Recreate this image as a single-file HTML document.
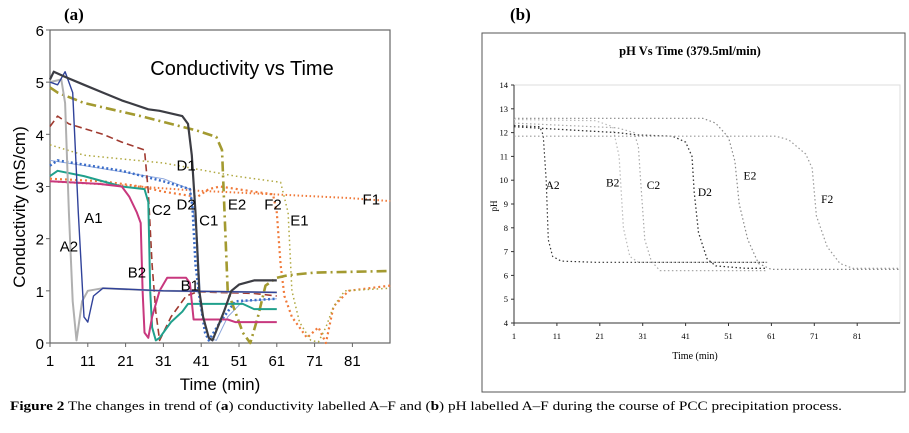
<!DOCTYPE html>
<html><head><meta charset="utf-8"><style>
body{margin:0;background:#fff;width:909px;height:433px;overflow:hidden}
svg{display:block}
</style></head><body>
<svg id="fig" width="909" height="433" xmlns="http://www.w3.org/2000/svg">
<text x="64" y="20" font-family="Liberation Serif, serif" font-weight="bold" font-size="17">(a)</text>
<text x="510" y="20" font-family="Liberation Serif, serif" font-weight="bold" font-size="17">(b)</text>
<rect x="482" y="33" width="423" height="359" fill="#fff" stroke="#555" stroke-width="1"/>
<text x="10" y="410" font-family="Liberation Serif, serif" font-size="12.8" textLength="832" lengthAdjust="spacingAndGlyphs"><tspan font-weight="bold">Figure 2</tspan>  The changes in trend of (<tspan font-weight="bold">a</tspan>) conductivity labelled A–F and (<tspan font-weight="bold">b</tspan>) pH labelled A–F during the course of PCC precipitation process.</text>
<g id="ga"></g><g id="gb"></g>
</svg>
<script>
// ---- Chart (a) data ----
const aXTicks=[1,11,21,31,41,51,61,71,81];
const aYTicks=[0,1,2,3,4,5,6];
const sC1=[[1,5.05],[2,5.2],[5,5.1],[10,4.95],[15,4.8],[20,4.65],[27,4.48],[30,4.45],[36,4.35],[37.5,4.2],[38.5,3.6],[39.5,2.5],[40.5,1.0],[41.5,0.5],[43,0.1],[44,0.05],[47,0.6],[49,1.0],[51,1.12],[55,1.2],[61,1.2]];
const sA2=[[1,5.0],[4,5.05],[5,4.6],[6,2.5],[7,0.8],[8,0.05],[9.5,0.8],[11,1.0],[15,1.05],[30,1.0],[61,0.97]];
const sA1=[[1,5.0],[3,4.95],[5,5.2],[7,4.8],[8.5,2.5],[10,0.5],[11,0.4],[12.5,0.9],[15,1.05],[22,1.03],[31,1.0],[61,0.97]];
const sE=[[1,4.9],[3,4.8],[10,4.6],[25,4.35],[40,4.07],[45,3.95],[46.5,3.7],[47,2.8],[48,1.0],[50,0.6],[52,0.2],[54,0.0],[56,0.5],[58,1.1],[61,1.25],[64,1.3],[71,1.35],[91,1.38]];
const sC2=[[1,4.15],[3,4.35],[6,4.2],[15,4.0],[20,3.85],[26,3.7],[27,2.9],[28,1.5],[29,0.6],[30,0.05],[31,0.2],[33,0.5],[37,0.9],[40,0.98],[55,0.95],[61,0.9]];
const sD1=[[1,3.8],[10,3.6],[31,3.45],[50,3.2],[62,3.08],[64,2.5],[65,1.0],[67,0.4],[70,0.05],[72,0.02],[74,0.3],[76,0.7],[79,1.0],[91,1.05]];
const sD2=[[1,3.4],[3,3.5],[20,3.3],[31,3.1],[38,2.95],[38.7,2.6],[39.5,1.5],[40.5,0.9],[42,0.2],[43,0.05],[46,0.4],[50,0.8],[61,0.85]];
const sD2b=[[1,3.5],[10,3.4],[31,3.15],[38,2.95],[40,2.0],[41,0.6],[43,0.1],[45,0.05],[48,0.5],[52,0.8],[61,0.85]];
const sB1=[[1,3.2],[3,3.3],[10,3.2],[20,3.0],[26,2.95],[27,2.7],[27.5,1.0],[28,0.3],[29,0.05],[30,0.1],[33,0.4],[36,0.6],[37.5,0.75],[52,0.75],[55,0.65],[61,0.65]];
const sB2=[[1,3.1],[14,3.05],[20,3.0],[22,2.8],[24,2.5],[25,2.3],[25.5,1.0],[26,0.2],[27,0.1],[28,0.5],[30,1.0],[32,1.25],[37,1.25],[38,1.15],[39,0.45],[48,0.45],[50,0.4],[61,0.4]];
const sF2=[[1,3.15],[15,3.1],[25,3.0],[31,2.9],[40,2.8],[43,2.95],[46,3.0],[55,2.9],[60,2.85],[61,2.5],[62,1.5],[63,0.9],[65,0.5],[69,0.1],[72,0.3],[74,0.0],[76,0.7],[80,1.0],[91,1.1]];
const sF1=[[1,3.1],[20,3.02],[40,2.92],[60,2.85],[80,2.78],[91,2.72]];
const aLabels=["A1","A2","B2","B1","C2","D2","C1","D1","E2","F2","E1","F1"];
const aLabT=[12.5,6,24,38,30.5,37,43,37,50.5,60,67,86];
const aLabV=[2.4,1.85,1.35,1.1,2.55,2.65,2.35,3.4,2.65,2.65,2.35,2.75];
// ---- Chart (b) data ----
const bXTicks=[1,11,21,31,41,51,61,71,81];
const bYTicks=[4,5,6,7,8,9,10,11,12,13,14];
const pA2=[[1,12.3],[7,12.25],[7.8,11.9],[8.5,10],[9,7.5],[10,6.8],[12,6.6],[20,6.55],[60,6.55]];
const pB2=[[1,12.55],[20,12.5],[24,12.25],[25.5,11.0],[26.5,8],[28,6.8],[30,6.55],[60,6.55]];
const pC2=[[1,12.4],[25,12.2],[29,12.0],[30,11.4],[30.5,10],[31.5,7.5],[33,6.6],[35,6.2],[60,6.2]];
const pD2=[[1,12.25],[15,12.1],[25,12.0],[30,11.9],[38,11.85],[41,11.6],[42.5,11.0],[43,9.5],[44,7.8],[46,6.7],[48,6.4],[55,6.3],[60,6.3]];
const pE2=[[1,12.6],[45,12.6],[48,12.4],[51,11.8],[52.5,10.8],[53.5,9],[55.5,7.5],[58,6.5],[61,6.25],[91,6.25]];
const pF2=[[1,11.85],[62,11.85],[65,11.7],[69,11.1],[70.5,10.5],[71.5,8.5],[74,7.2],[77,6.5],[80,6.3],[91,6.3]];
const bLabels=["A2","B2","C2","D2","E2","F2"];
const bLabT=[10,24,33.5,45.5,56,74];
const bLabV=[9.8,9.9,9.8,9.5,10.2,9.2];

const NS="http://www.w3.org/2000/svg";
function mk(parent,tag,attrs,text){const e=document.createElementNS(NS,tag);for(const k in attrs)e.setAttribute(k,attrs[k]);if(text!==undefined)e.textContent=text;parent.appendChild(e);return e;}
const ax=t=>50+(t-1)*3.78, ay=v=>343-v*52.17;
const bx=t=>514+(t-1)*4.29, by=v=>323-(v-4)*23.8;
const ga=document.getElementById('ga'), gb=document.getElementById('gb');

let e;
e=mk(ga,'rect',{x:50,y:30,width:340,height:313,fill:'none',stroke:'#666','stroke-width':1.2});


aYTicks.forEach(v=>{
  const t=mk(ga,'text',{x:44,y:ay(v)+6,'text-anchor':'end','font-family':'Liberation Sans, sans-serif','font-size':15},String(v));
  
  
  mk(ga,'line',{x1:46,x2:50,y1:ay(v),y2:ay(v),stroke:'#666'});
});
aXTicks.forEach(v=>{
  const t=mk(ga,'text',{x:ax(v),y:366,'text-anchor':'middle','font-family':'Liberation Sans, sans-serif','font-size':15},String(v));
  
  
  mk(ga,'line',{x1:ax(v),x2:ax(v),y1:343,y2:347,stroke:'#666'});
});
e=mk(ga,'text',{x:220,y:390,'text-anchor':'middle','font-family':'Liberation Sans, sans-serif','font-size':17},'Time (min)');


e=mk(ga,'text',{x:0,y:0,transform:'translate(25,207) rotate(-90)','text-anchor':'middle','font-family':'Liberation Sans, sans-serif','font-size':17},'Conductivity (mS/cm)');


e=mk(ga,'text',{x:242,y:75,'text-anchor':'middle','font-family':'Liberation Sans, sans-serif','font-size':20},'Conductivity vs Time');



function path(g,data,fx,fy,color,w,dash,name){
  const d=data.map((p,i)=>(i?'L':'M')+fx(p[0]).toFixed(1)+','+fy(p[1]).toFixed(1)).join('');
  const p=mk(g,'path',{d:d,fill:'none',stroke:color,'stroke-width':w,'stroke-linejoin':'round'});
  if(dash)p.setAttribute('stroke-dasharray',dash);
  
  
}
path(ga,sF1,ax,ay,'#f07a3a',2,'1.5 2.5','series-f1');
path(ga,sF2,ax,ay,'#f07a3a',2.2,'2 3','series-f2');
path(ga,sD1,ax,ay,'#b0a840',1.5,'1.5 3','series-d1');
path(ga,sD2b,ax,ay,'#8fa8dd',1,null,'series-d2-thin');
path(ga,sD2,ax,ay,'#3a6cc8',2.5,'2 2.5','series-d2');
path(ga,sE,ax,ay,'#a39a30',2.6,'10 4 2 4','series-e');
path(ga,sC2,ax,ay,'#a03a30',1.6,'7 4','series-c2');
path(ga,sB1,ax,ay,'#20a08c',2,null,'series-b1');
path(ga,sB2,ax,ay,'#c8387e',2,null,'series-b2');
path(ga,sA2,ax,ay,'#b0b0b0',2,null,'series-a2');
path(ga,sA1,ax,ay,'#30429a',1.4,null,'series-a1');
path(ga,sC1,ax,ay,'#3c3d44',2.2,null,'series-c1');
aLabels.forEach((l,i)=>{
  const t=mk(ga,'text',{x:ax(aLabT[i]),y:ay(aLabV[i])+5,'text-anchor':'middle','font-family':'Liberation Sans, sans-serif','font-size':15},l);
  
  
});

// chart b
e=mk(gb,'text',{x:690,y:55,'text-anchor':'middle','font-family':'Liberation Serif, serif','font-weight':'bold','font-size':12.5},'pH Vs Time (379.5ml/min)');


e=mk(gb,'rect',{x:514,y:85,width:386,height:238,fill:'none',stroke:'#ddd','stroke-width':1});


mk(gb,'line',{x1:514,x2:514,y1:85,y2:323,stroke:'#333'});
mk(gb,'line',{x1:514,x2:900,y1:323,y2:323,stroke:'#333'});
bYTicks.forEach(v=>{
  const t=mk(gb,'text',{x:508,y:by(v)+3,'text-anchor':'end','font-family':'Liberation Serif, serif','font-size':8.5},String(v));
  
  
  mk(gb,'line',{x1:511,x2:514,y1:by(v),y2:by(v),stroke:'#333'});
});
bXTicks.forEach(v=>{
  const t=mk(gb,'text',{x:bx(v),y:339,'text-anchor':'middle','font-family':'Liberation Serif, serif','font-size':8.5},String(v));
  
  
  mk(gb,'line',{x1:bx(v),x2:bx(v),y1:323,y2:326,stroke:'#333'});
});
e=mk(gb,'text',{x:695,y:359,'text-anchor':'middle','font-family':'Liberation Serif, serif','font-size':10},'Time (min)');


e=mk(gb,'text',{x:0,y:0,transform:'translate(497,206) rotate(-90)','text-anchor':'middle','font-family':'Liberation Serif, serif','font-size':9},'pH');


path(gb,pA2,bx,by,'#333',1.2,'1.5 2.5','series-ph-a2');
path(gb,pB2,bx,by,'#bbb',1.2,'1.5 2.5','series-ph-b2');
path(gb,pC2,bx,by,'#aaa',1.2,'1.5 2.5','series-ph-c2');
path(gb,pD2,bx,by,'#333',1.3,'1.5 2.5','series-ph-d2');
path(gb,pE2,bx,by,'#888',1.2,'1.5 2.5','series-ph-e2');
path(gb,pF2,bx,by,'#999',1.2,'1.5 2.5','series-ph-f2');
bLabels.forEach((l,i)=>{
  const t=mk(gb,'text',{x:bx(bLabT[i]),y:by(bLabV[i])+4,'text-anchor':'middle','font-family':'Liberation Serif, serif','font-size':11.5},l);
  
  
});
</script>
</body></html>
